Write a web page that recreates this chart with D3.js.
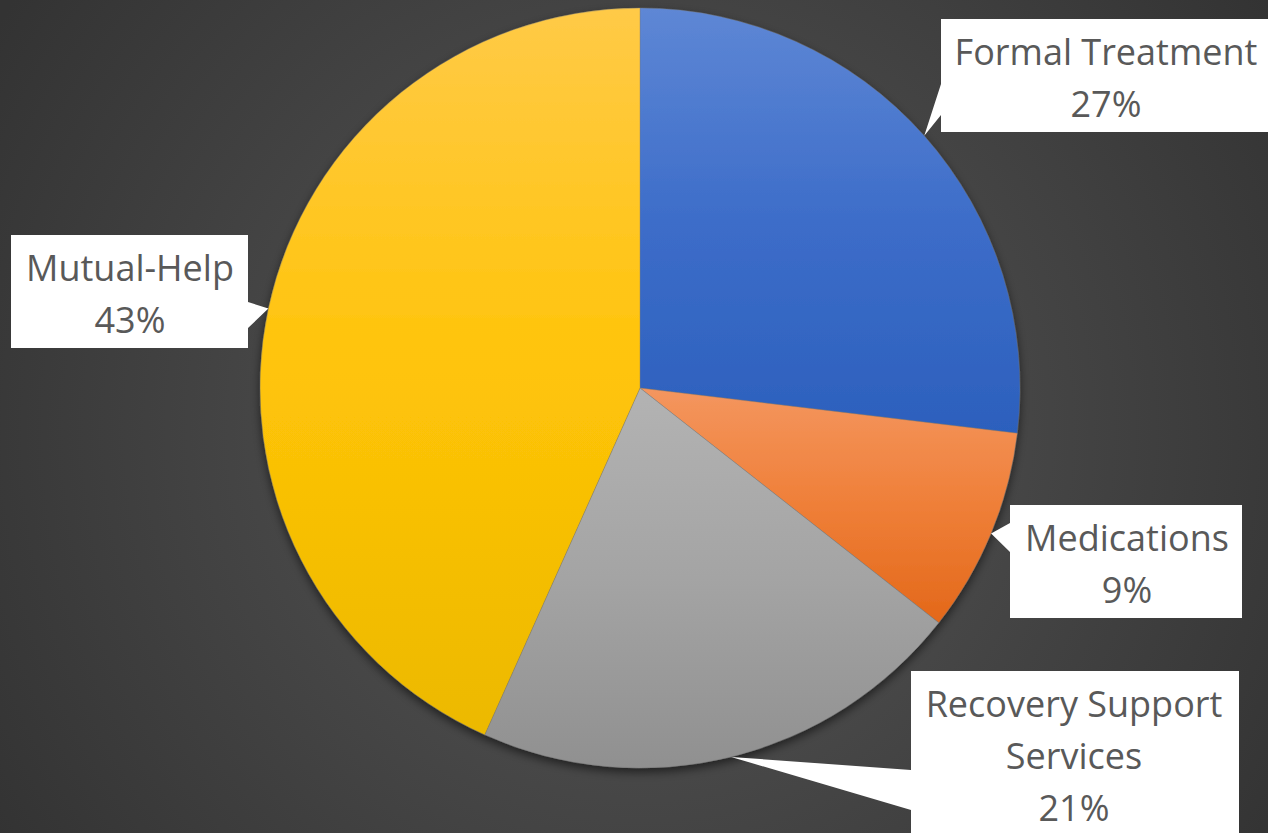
<!DOCTYPE html>
<html><head><meta charset="utf-8">
<script src="https://cdn.jsdelivr.net/npm/d3@7"></script>
<style>html,body{margin:0;padding:0;overflow:hidden;background:#444}</style>
</head><body><svg id="c" width="1268" height="833"></svg>
<script>
const categories = ["Formal Treatment", "Medications", "Recovery Support Services", "Mutual-Help"];
const values = [26.9, 8.7, 21.1, 43.3];
const percentLabels = ["27%", "9%", "21%", "43%"];
const labelLines = [["Formal Treatment"], ["Medications"], ["Recovery Support", "Services"], ["Mutual-Help"]];
const topColors = ["#5e87d5", "#f4965f", "#b3b3b3", "#ffca47"];
const midColors = ["#3d6dc9", "#ef7f38", "#a4a4a4", "#ffc408"];
const bottomColors = ["#2c60bd", "#e3681a", "#909090", "#ecb900"];

const W = 1268, H = 833, cx = 640, cy = 388, R = 380;
const svg = d3.select("#c");
const defs = svg.append("defs");

const bg = defs.append("radialGradient").attr("id", "bg").attr("gradientUnits", "userSpaceOnUse")
  .attr("cx", 640).attr("cy", 430).attr("r", 760);
bg.append("stop").attr("offset", 0).attr("stop-color", "#585858");
bg.append("stop").attr("offset", 1).attr("stop-color", "#333333");
svg.append("rect").attr("width", W).attr("height", H).attr("fill", "url(#bg)");

const sh = defs.append("filter").attr("id", "shadow").attr("x", "-20%").attr("y", "-20%").attr("width", "140%").attr("height", "140%");
sh.append("feDropShadow").attr("dx", 0).attr("dy", 4).attr("stdDeviation", 5).attr("flood-color", "#000").attr("flood-opacity", 0.55);

categories.forEach((c, i) => {
  const g = defs.append("linearGradient").attr("id", "g" + i).attr("x1", 0).attr("y1", 0).attr("x2", 0).attr("y2", 1);
  g.append("stop").attr("offset", 0).attr("stop-color", topColors[i]);
  g.append("stop").attr("offset", 0.5).attr("stop-color", midColors[i]);
  g.append("stop").attr("offset", 1).attr("stop-color", bottomColors[i]);
});

const pie = d3.pie().sort(null).value(d => d)(values);
const arc = d3.arc().innerRadius(0).outerRadius(R);

const pg = svg.append("g").attr("transform", `translate(${cx},${cy})`).attr("filter", "url(#shadow)");
pg.selectAll("path").data(pie).join("path")
  .attr("d", arc)
  .attr("fill", (d, i) => `url(#g${i})`)
  .attr("stroke", "#7a7a7a").attr("stroke-width", 0.6).attr("stroke-opacity", 0.6);

// label boxes (layout)
const boxes = [
  {x: 941, y: 19, w: 340, h: 113, tx: 1106, side: "left", b0: 84, b1: 115},
  {x: 1010, y: 505, w: 232, h: 113, tx: 1127, side: "left", b0: 523, b1: 552},
  {x: 911, y: 671, w: 328, h: 180, tx: 1074, side: "left", b0: 770, b1: 810},
  {x: 11, y: 235, w: 237, h: 113, tx: 130, side: "right", b0: 302, b1: 328}
];
const lg = svg.append("g");
pie.forEach((d, i) => {
  const b = boxes[i];
  const a = (d.startAngle + d.endAngle) / 2;
  const tip = [cx + R * Math.sin(a), cy - R * Math.cos(a)];
  let p;
  if (b.side === "left") {
    p = `M${b.x},${b.y}H${b.x + b.w}V${b.y + b.h}H${b.x}V${b.b1}L${tip[0]},${tip[1]}L${b.x},${b.b0}Z`;
  } else {
    const xr = b.x + b.w;
    p = `M${b.x},${b.y}H${xr}V${b.b0}L${tip[0]},${tip[1]}L${xr},${b.b1}V${b.y + b.h}H${b.x}Z`;
  }
  lg.append("path").attr("d", p).attr("fill", "#fff");
  const lines = labelLines[i].concat([percentLabels[i]]);
  const t = lg.append("text").attr("text-anchor", "middle")
    .attr("font-family", "'Open Sans', 'Noto Sans', sans-serif").attr("font-size", 36).attr("fill", "#595959");
  lines.forEach((l, k) => {
    t.append("tspan").attr("x", b.tx).attr("y", b.y + 46 + k * 52).text(l);
  });
});
</script>
</body></html>
